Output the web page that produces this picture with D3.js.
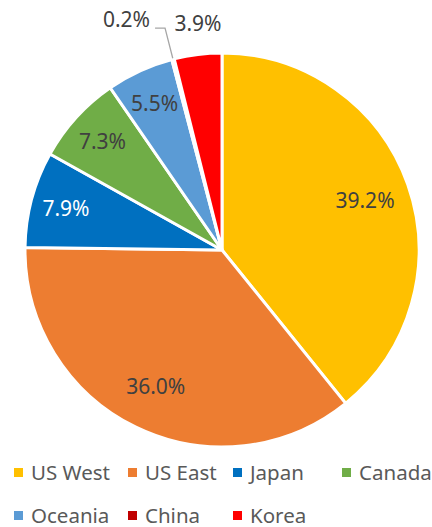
<!DOCTYPE html>
<html>
<head>
<meta charset="utf-8">
<script src="https://cdn.jsdelivr.net/npm/d3@7"></script>
<style>
  body { margin: 0; background: #fff; }
  svg { display: block; font-family: "Noto Sans", sans-serif; }
</style>
</head>
<body>
<svg width="432" height="527"></svg>
<script>
var regions = ["US West", "US East", "Japan", "Canada", "Oceania", "China", "Korea"];
var shares = [39.2, 36.0, 7.9, 7.3, 5.5, 0.2, 3.9];
var colors = ["#FFC000", "#ED7D31", "#0070C0", "#70AD47", "#5B9BD5", "#C00000", "#FF0000"];

var width = 432;
var height = 527;
var cx = 222, cy = 250;
var radius = 197;

var svg = d3.select("svg");

var data = regions.map(function(r, i) { return {name: r, value: shares[i], color: colors[i]}; });

var pie = d3.pie().value(function(d) { return d.value; }).sort(null);
var arcs = pie(data);

var arc = d3.arc().innerRadius(0).outerRadius(radius);

var g = svg.append("g").attr("transform", "translate(" + cx + "," + cy + ")");

g.selectAll("path")
  .data(arcs)
  .enter().append("path")
  .attr("d", arc)
  .attr("fill", function(d) { return d.data.color; })
  .attr("stroke", "#fff")
  .attr("stroke-width", 3)
  .attr("stroke-linejoin", "miter");

// label radius depends on slice size, small slices go outside
function labelRadius(d) {
  if (d.data.value > 20) return radius * 0.77;
  if (d.data.value >= 5) return radius * 0.82;
  return radius + 32;
}

function pointAt(angle, r) {
  return [Math.sin(angle) * r, -Math.cos(angle) * r];
}

arcs.forEach(function(d) {
  var mid = (d.startAngle + d.endAngle) / 2;
  var lbl = d.data.value.toFixed(1) + "%";
  if (d.data.value < 1) {
    // tiny slice: leader line with elbow
    var p0 = pointAt(mid, radius + 1);
    var p1 = pointAt(mid, radius + 32);
    var p2 = [p1[0] - 10, p1[1]];
    g.append("polyline")
      .attr("points", [p0, p1, p2].map(function(p) { return p.join(","); }).join(" "))
      .attr("fill", "none")
      .attr("stroke", "#A6A6A6")
      .attr("stroke-width", 1.3);
    g.append("text")
      .attr("x", p2[0] - 5)
      .attr("y", p2[1] - 9)
      .attr("text-anchor", "end")
      .attr("dominant-baseline", "central")
      .attr("font-size", 21)
      .attr("fill", "#404040")
      .text(lbl);
    return;
  }
  var p = pointAt(mid, labelRadius(d));
  g.append("text")
    .attr("x", p[0] + (d.data.value < 5 ? 4 : 0))
    .attr("y", p[1])
    .attr("text-anchor", "middle")
    .attr("dominant-baseline", "central")
    .attr("font-size", 21)
    .attr("fill", d.data.name == "Japan" ? "#fff" : "#404040")
    .text(lbl);
});

// legend
var legendX = [13, 127, 232, 341];
var legendRows = [[0, 1, 2, 3], [4, 5, 6]];
var legendY = [472, 515];

legendRows.forEach(function(row, r) {
  row.forEach(function(idx, c) {
    var lg = svg.append("g").attr("transform", "translate(" + legendX[c] + "," + legendY[r] + ")");
    lg.append("rect")
      .attr("x", 1).attr("y", -4)
      .attr("width", 9).attr("height", 9)
      .attr("fill", colors[idx]);
    lg.append("text")
      .attr("x", 18)
      .attr("y", 0)
      .attr("dominant-baseline", "central")
      .attr("font-size", 20.5)
      .attr("fill", "#595959")
      .text(regions[idx]);
  });
});
</script>
</body>
</html>
